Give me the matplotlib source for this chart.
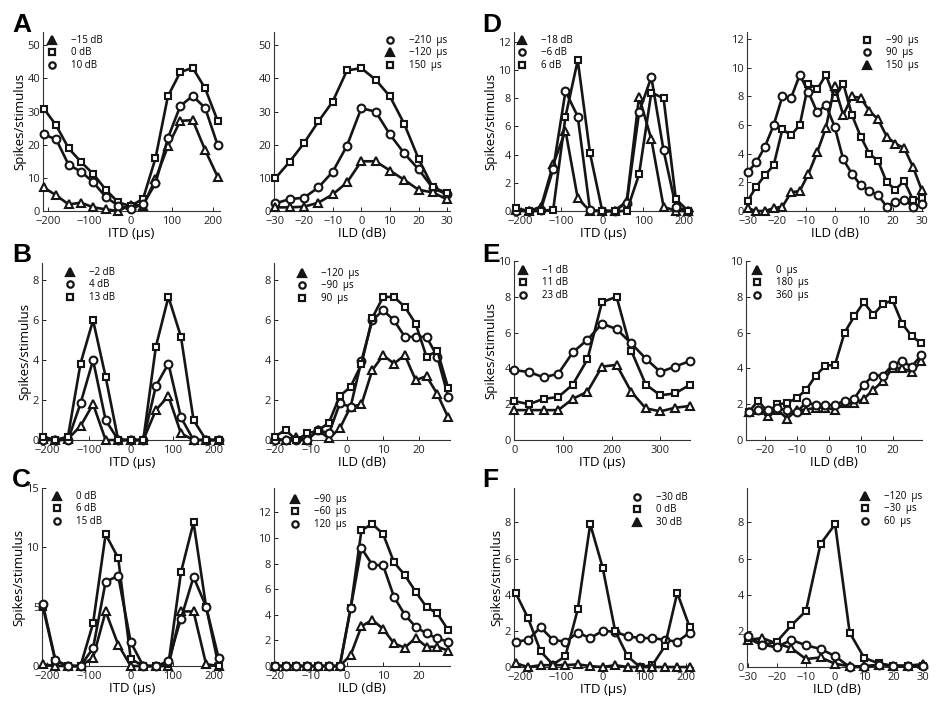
import matplotlib
matplotlib.use('Agg')
import matplotlib.pyplot as plt
from matplotlib.lines import Line2D

plt.rcParams['font.family'] = ['Open Sans', 'DejaVu Sans']
plt.rcParams['axes.unicode_minus'] = True

W, H = 939, 702

# ---------------- x grids ----------------
itd_x = [-210, -180, -150, -120, -90, -60, -30, 0, 30, 60, 90, 120, 150, 180, 210]
itd_x_e = [0, 30, 60, 90, 120, 150, 180, 210, 240, 270, 300, 330, 360]
ild_x_5 = [-30, -25, -20, -15, -10, -5, 0, 5, 10, 15, 20, 25, 30]
ild_x_d = [-30, -27, -24, -21, -18, -15, -12, -9, -6, -3, 0, 3, 6, 9, 12, 15, 18, 21, 24, 27, 30]
ild_x_bc = [-20, -17, -14, -11, -8, -5, -2, 1, 4, 7, 10, 13, 16, 19, 22, 25, 28]
ild_x_e = [-25, -22, -19, -16, -13, -10, -7, -4, -1, 2, 5, 8, 11, 14, 17, 20, 23, 26, 29]

# ---------------- Panel A ----------------
A_itd_m15 = [7.1, 4.7, 2.0, 2.5, 1.1, 0.5, 0.0, 1.9, 1.6, 9.6, 19.5, 27.2, 27.4, 18.4, 10.4]
A_itd_0 = [30.9, 25.8, 18.9, 14.8, 11.1, 6.4, 2.6, 1.5, 3.7, 15.9, 34.6, 41.9, 43.2, 37.0, 27.3]
A_itd_10 = [23.1, 21.6, 13.9, 11.9, 8.6, 4.2, 1.6, 0.7, 2.0, 8.3, 22.0, 31.7, 34.7, 31.1, 20.0]
A_ild_m210 = [2.3, 3.6, 4.0, 7.1, 11.8, 19.7, 31.0, 30.0, 23.1, 17.4, 12.6, 6.9, 5.0]
A_ild_m120 = [1.1, 1.1, 1.3, 2.5, 5.0, 8.6, 15.0, 15.0, 12.2, 9.4, 6.4, 5.6, 3.5]
A_ild_150 = [9.9, 14.9, 20.5, 27.0, 33.0, 42.4, 43.1, 39.6, 34.6, 26.3, 15.8, 7.1, 5.5]

# ---------------- Panel B ----------------
B_itd_m2 = [0.05, 0, 0.05, 0.7, 1.8, 0, 0, 0, 0, 1.5, 2.2, 0.33, 0, 0, 0]
B_itd_4 = [0, 0, 0, 1.83, 4.0, 1.0, 0, 0, 0, 2.7, 3.83, 1.13, 0, 0, 0]
B_itd_13 = [0.17, 0, 0.17, 3.83, 6.0, 3.17, 0, 0, 0, 4.67, 7.17, 5.17, 1.0, 0, 0]
B_ild_m120 = [0.05, 0, 0.17, 0, 0.5, 0.08, 0.58, 1.67, 1.78, 3.5, 4.25, 3.83, 4.25, 3.0, 3.2, 2.3, 1.13]
B_ild_m90 = [0, 0, 0, 0, 0.5, 0.33, 1.83, 1.67, 3.97, 6.0, 6.5, 6.0, 5.17, 5.17, 5.17, 4.17, 2.17]
B_ild_90 = [0.17, 0.5, 0, 0.33, 0.47, 0.87, 2.2, 2.67, 3.8, 6.12, 7.17, 7.17, 6.67, 5.83, 4.17, 4.47, 2.6]

# ---------------- Panel C ----------------
C_itd_0 = [0.15, 0, 0, 0, 0.7, 4.6, 1.8, 0, 0, 0, 0, 4.6, 4.6, 0.15, 0]
C_itd_6 = [5.0, 0.4, 0, 0, 3.6, 11.1, 9.1, 0.6, 0, 0, 0.15, 7.9, 12.1, 5.0, 0]
C_itd_15 = [5.2, 0.5, 0, 0, 1.5, 7.1, 7.6, 2.0, 0, 0, 0.4, 4.0, 7.5, 5.0, 0.65]
C_ild_m90 = [0, 0, 0, 0, 0, 0, 0, 0.85, 3.1, 3.6, 2.9, 1.76, 1.43, 2.2, 1.5, 1.5, 1.2]
C_ild_m60 = [0, 0, 0, 0, 0, 0, 0, 4.5, 10.6, 11.1, 10.3, 8.1, 7.1, 5.8, 4.6, 4.1, 2.8]
C_ild_120 = [0, 0, 0, 0, 0, 0, 0, 4.5, 9.2, 7.9, 7.85, 5.4, 4.0, 3.06, 2.54, 2.15, 1.9]

# ---------------- Panel D ----------------
D_itd_m18 = [0.1, 0, 0.3, 3.3, 5.7, 0.9, 0, 0, 0, 0.7, 8.1, 5.1, 0.3, 0, 0]
D_itd_m6 = [0, 0, 0.1, 3.0, 8.5, 6.7, 0.05, 0, 0, 0.6, 7.0, 9.5, 4.3, 0.3, 0]
D_itd_6 = [0.2, 0, 0, 0.1, 6.7, 10.7, 4.1, 0, 0, 0, 2.6, 8.4, 8.0, 0.85, 0]
D_ild_m90 = [0.7, 1.7, 2.5, 3.2, 5.7, 5.3, 6.0, 8.9, 8.5, 9.5, 7.9, 8.9, 6.7, 5.2, 4.0, 3.5, 2.0, 1.5, 2.1, 0.8, 0.9]
D_ild_90 = [2.7, 3.4, 4.5, 6.0, 8.0, 7.9, 9.5, 8.3, 6.9, 7.4, 5.9, 3.6, 2.6, 1.8, 1.4, 1.1, 0.3, 0.65, 0.8, 0.3, 0.5]
D_ild_150 = [0.2, 0, 0, 0.2, 0.3, 1.3, 1.4, 2.6, 4.1, 5.8, 8.7, 6.7, 8.0, 7.9, 7.0, 6.4, 5.2, 4.7, 4.4, 3.1, 1.5]

# ---------------- Panel E ----------------
E_itd_m1 = [1.67, 1.67, 1.67, 1.67, 2.3, 2.7, 4.1, 4.2, 2.7, 1.77, 1.6, 1.8, 1.9]
E_itd_11 = [2.17, 2.0, 2.3, 2.4, 3.1, 4.5, 7.7, 8.0, 5.0, 3.1, 2.5, 2.6, 3.07]
E_itd_23 = [3.9, 3.8, 3.5, 3.7, 4.9, 5.6, 6.5, 6.2, 5.4, 4.55, 3.8, 4.1, 4.4]
E_ild_0 = [1.55, 1.7, 1.35, 1.7, 1.2, 1.65, 1.7, 1.8, 1.8, 1.7, 2.05, 2.05, 2.3, 2.8, 3.3, 4.0, 4.0, 3.8, 4.4]
E_ild_180 = [1.55, 2.2, 1.55, 2.0, 2.05, 2.35, 2.8, 3.6, 4.15, 4.2, 6.0, 6.9, 7.7, 7.0, 7.6, 7.8, 6.5, 5.8, 5.4]
E_ild_360 = [1.55, 1.65, 1.65, 1.8, 1.65, 1.55, 2.1, 1.95, 1.95, 1.95, 2.2, 2.3, 3.1, 3.6, 3.6, 4.2, 4.4, 4.1, 4.75]

# ---------------- Panel F ----------------
F_itd_m30 = [1.4, 1.5, 2.2, 1.5, 1.4, 1.9, 1.6, 2.0, 1.95, 1.7, 1.6, 1.6, 1.5, 1.4, 1.9]
F_itd_0 = [4.1, 2.7, 0.87, 0.13, 0.6, 3.2, 7.9, 5.5, 2.0, 0.6, 0, 0.1, 1.15, 4.1, 2.2]
F_itd_30 = [0.2, 0, 0.1, 0.1, 0.1, 0.15, 0.05, 0, 0.1, 0, 0, 0, 0, 0, 0]
F_ild_m120 = [1.5, 1.6, 1.3, 1.05, 0.44, 0.53, 0.18, 0.04, 0.04, 0.13, 0.07, 0.07, 0.16]
F_ild_m30 = [1.6, 1.2, 1.4, 2.3, 3.1, 6.8, 7.9, 1.9, 0.5, 0.2, 0.07, 0.07, 0.07]
F_ild_60 = [1.7, 1.23, 1.1, 1.5, 1.2, 1.0, 0.6, 0, 0, 0.13, 0.04, 0.04, 0.04]

# ---------------- labels ----------------
ITD_LABEL = 'ITD (\u00b5s)'
ILD_LABEL = 'ILD (dB)'
Y_LABEL = 'Spikes/stimulus'

MK = {'tri': dict(marker='^', ms=6.3), 'sq': dict(marker='s', ms=4.6), 'circ': dict(marker='o', ms=5.6)}
MK_LEG = {'tri': dict(marker='^', ms=5.2, mfc='#151515'), 'sq': dict(marker='s', ms=3.8, mfc='white'),
          'circ': dict(marker='o', ms=4.6, mfc='white')}
INK = '#151515'

panels = [
    dict(letter='A', rect=(43, 220, 32, 211), x=itd_x,
         series=[(A_itd_m15, 'tri', '\u221215 dB'), (A_itd_0, 'sq', '0 dB'), (A_itd_10, 'circ', '10 dB')],
         xlim=(-212, 216), ylim=(0, 54), xticks=[-200, -100, 0, 100, 200], yticks=[0, 10, 20, 30, 40, 50],
         xlabel=ITD_LABEL, ylab=True, leg=(52, 42)),
    dict(letter=None, rect=(274, 450, 32, 211), x=ild_x_5,
         series=[(A_ild_m210, 'circ', '\u2212210  \u00b5s'), (A_ild_m120, 'tri', '\u2212120  \u00b5s'), (A_ild_150, 'sq', '150  \u00b5s')],
         xlim=(-30.5, 31), ylim=(0, 54), xticks=[-30, -20, -10, 0, 10, 20, 30], yticks=[0, 10, 20, 30, 40, 50],
         xlabel=ILD_LABEL, ylab=False, leg=(390, 42)),
    dict(letter='D', rect=(514, 693, 32, 211), x=itd_x,
         series=[(D_itd_m18, 'tri', '\u221218 dB'), (D_itd_m6, 'circ', '\u22126 dB'), (D_itd_6, 'sq', '6 dB')],
         xlim=(-216, 222), ylim=(0, 12.7), xticks=[-200, -100, 0, 100, 200], yticks=[0, 2, 4, 6, 8, 10, 12],
         xlabel=ITD_LABEL, ylab=True, leg=(522, 42)),
    dict(letter=None, rect=(747, 923, 32, 211), x=ild_x_d,
         series=[(D_ild_m90, 'sq', '\u221290  \u00b5s'), (D_ild_90, 'circ', '90  \u00b5s'), (D_ild_150, 'tri', '150  \u00b5s')],
         xlim=(-30.2, 30.5), ylim=(0, 12.5), xticks=[-30, -20, -10, 0, 10, 20, 30], yticks=[0, 2, 4, 6, 8, 10, 12],
         xlabel=ILD_LABEL, ylab=False, leg=(867, 42)),
    dict(letter='B', rect=(42, 222, 263, 440), x=itd_x,
         series=[(B_itd_m2, 'tri', '\u22122 dB'), (B_itd_4, 'circ', '4 dB'), (B_itd_13, 'sq', '13 dB')],
         xlim=(-212, 218), ylim=(0, 8.87), xticks=[-200, -100, 0, 100, 200], yticks=[0, 2, 4, 6, 8],
         xlabel=ITD_LABEL, ylab=True, leg=(70, 274)),
    dict(letter=None, rect=(274, 450, 263, 440), x=ild_x_bc,
         series=[(B_ild_m120, 'tri', '\u2212120  \u00b5s'), (B_ild_m90, 'circ', '\u221290  \u00b5s'), (B_ild_90, 'sq', '90  \u00b5s')],
         xlim=(-20.2, 28.5), ylim=(0, 8.87), xticks=[-20, -10, 0, 10, 20], yticks=[0, 2, 4, 6, 8],
         xlabel=ILD_LABEL, ylab=False, leg=(302, 275)),
    dict(letter='E', rect=(514, 690, 261, 440), x=itd_x_e,
         series=[(E_itd_m1, 'tri', '\u22121 dB'), (E_itd_11, 'sq', '11 dB'), (E_itd_23, 'circ', '23 dB')],
         xlim=(-1, 361), ylim=(0, 10), xticks=[0, 100, 200, 300], yticks=[0, 2, 4, 6, 8, 10],
         xlabel=ITD_LABEL, ylab=True, leg=(523, 272)),
    dict(letter=None, rect=(746, 922, 261, 440), x=ild_x_e,
         series=[(E_ild_0, 'tri', '0  \u00b5s'), (E_ild_180, 'sq', '180  \u00b5s'), (E_ild_360, 'circ', '360  \u00b5s')],
         xlim=(-25.8, 29.2), ylim=(0, 10), xticks=[-20, -10, 0, 10, 20], yticks=[0, 2, 4, 6, 8, 10],
         xlabel=ILD_LABEL, ylab=False, leg=(757, 272)),
    dict(letter='C', rect=(42, 222, 488, 666), x=itd_x,
         series=[(C_itd_0, 'tri', '0 dB'), (C_itd_6, 'sq', '6 dB'), (C_itd_15, 'circ', '15 dB')],
         xlim=(-212, 218), ylim=(0, 15), xticks=[-200, -100, 0, 100, 200], yticks=[0, 5, 10, 15],
         xlabel=ITD_LABEL, ylab=True, leg=(57, 498)),
    dict(letter=None, rect=(274, 450, 488, 666), x=ild_x_bc,
         series=[(C_ild_m90, 'tri', '\u221290  \u00b5s'), (C_ild_m60, 'sq', '\u221260  \u00b5s'), (C_ild_120, 'circ', '120  \u00b5s')],
         xlim=(-20.2, 28.5), ylim=(0, 13.9), xticks=[-20, -10, 0, 10, 20], yticks=[0, 2, 4, 6, 8, 10, 12],
         xlabel=ILD_LABEL, ylab=False, leg=(295, 501)),
    dict(letter='F', rect=(514, 693, 488, 667), x=itd_x,
         series=[(F_itd_m30, 'circ', '\u221230 dB'), (F_itd_0, 'sq', '0 dB'), (F_itd_30, 'tri', '30 dB')],
         xlim=(-214, 218), ylim=(0, 9.9), xticks=[-200, -100, 0, 100, 200], yticks=[0, 2, 4, 6, 8],
         xlabel=ITD_LABEL, ylab=True, leg=(637, 499)),
    dict(letter=None, rect=(747, 927, 488, 667), x=ild_x_5,
         series=[(F_ild_m120, 'tri', '\u2212120  \u00b5s'), (F_ild_m30, 'sq', '\u221230  \u00b5s'), (F_ild_60, 'circ', '60  \u00b5s')],
         xlim=(-30.2, 31.5), ylim=(0, 9.9), xticks=[-30, -20, -10, 0, 10, 20, 30], yticks=[0, 2, 4, 6, 8],
         xlabel=ILD_LABEL, ylab=False, leg=(865, 498)),
]

letter_pos = {'A': (12, 32), 'B': (12, 262), 'C': (12, 487), 'D': (482, 32), 'E': (482, 262), 'F': (482, 487)}

fig = plt.figure(figsize=(W / 100, H / 100), dpi=100)

LEG_FS = 7.0
fs_px = LEG_FS * 100 / 72
for p in panels:
    l, r, t, b = p['rect']
    ax = fig.add_axes([l / W, 1 - b / H, (r - l) / W, (b - t) / H])
    handles = []
    for y, mk, lab in p['series']:
        ax.plot(p['x'], y, color=INK, lw=1.9, mfc='white', mec=INK, mew=1.5,
                clip_on=False, zorder=3, **MK[mk])
        handles.append(Line2D([], [], ls='none', color=INK, mec=INK, mew=1.6, **MK_LEG[mk]))
    ax.set_xlim(*p['xlim'])
    ax.set_ylim(*p['ylim'])
    ax.set_xticks(p['xticks'])
    ax.set_yticks(p['yticks'])
    for s in ('top', 'right'):
        ax.spines[s].set_visible(False)
    for s in ('left', 'bottom'):
        ax.spines[s].set_linewidth(0.8)
        ax.spines[s].set_color('#333333')
    ax.tick_params(direction='in', length=3, width=0.7, labelsize=8, colors='#222222')
    ax.tick_params(axis='x', pad=3.5)
    ax.tick_params(axis='y', pad=2)
    ax.set_xlabel(p['xlabel'], fontsize=9.5, labelpad=0)
    if p['ylab']:
        ax.set_ylabel(Y_LABEL, fontsize=9.5, labelpad=1)
    mx, my = p['leg']
    hl = 1.0
    ax.legend(handles, [s[2] for s in p['series']], loc='upper left',
              bbox_to_anchor=((mx - hl * fs_px / 2) / W, 1 - (my - 7) / H),
              bbox_transform=fig.transFigure, frameon=False, fontsize=LEG_FS,
              handlelength=hl, handletextpad=1.5, labelspacing=0.15,
              borderpad=0, borderaxespad=0, numpoints=1)
    if p['letter']:
        lx, ly = letter_pos[p['letter']]
        fig.text(lx / W, 1 - ly / H, p['letter'], fontsize=19, fontweight='bold',
                 family=['Liberation Sans', 'DejaVu Sans'], va='baseline', ha='left')

fig.savefig('out.png', dpi=100)
